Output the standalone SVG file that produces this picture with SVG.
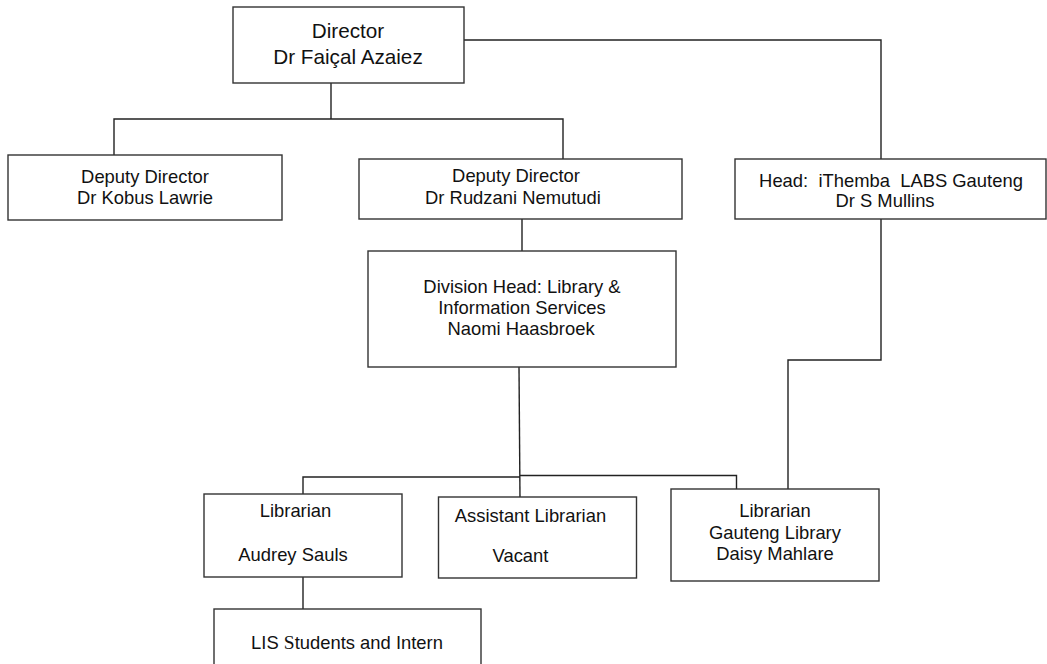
<svg xmlns="http://www.w3.org/2000/svg" width="1047" height="664" viewBox="0 0 1047 664">
<style>
.box{fill:#fff;stroke:#333;stroke-width:1.4}
.ln{fill:none;stroke:#222;stroke-width:1.4}
text{font-family:"Liberation Sans",Arial,sans-serif;font-size:18.4px;fill:#111;text-anchor:middle}
.big{font-size:20.7px}
</style>
<rect width="1047" height="664" fill="#fff"/>
<g id="connectors">
<polyline class="ln" points="464,40 881,40 881,159"/>
<line class="ln" x1="331" y1="83" x2="331" y2="119"/>
<polyline class="ln" points="114,155 114,119 563,119 563,159"/>
<line class="ln" x1="522" y1="219" x2="522" y2="251"/>
<line class="ln" x1="519" y1="367" x2="520" y2="500"/>
<polyline class="ln" points="303,494 303,477 520,477"/>
<polyline class="ln" points="520,475.5 736.5,475.5 736.5,489"/>
<polyline class="ln" points="881,219 881,360 788,360 788,489"/>
<line class="ln" x1="303" y1="577" x2="303" y2="609"/>
</g>
<g id="director">
<rect class="box" x="233" y="7" width="231" height="76"/>
<text class="big" x="348" y="38">Director</text>
<text class="big" x="348" y="64">Dr Faiçal Azaiez</text>
</g>
<g id="deputy-kobus">
<rect class="box" x="8" y="155" width="274" height="65"/>
<text x="145" y="183">Deputy Director</text>
<text x="145" y="204">Dr Kobus Lawrie</text>
</g>
<g id="deputy-rudzani">
<rect class="box" x="359" y="159" width="323" height="60"/>
<text x="516" y="182">Deputy Director</text>
<text x="513" y="204">Dr Rudzani Nemutudi</text>
</g>
<g id="head-gauteng">
<rect class="box" x="735" y="159" width="311" height="60"/>
<text x="891" y="187" xml:space="preserve">Head:  iThemba  LABS Gauteng</text>
<text x="885" y="207">Dr S Mullins</text>
</g>
<g id="division-head">
<rect class="box" x="368" y="251" width="308" height="116"/>
<text x="522" y="293">Division Head: Library &amp;</text>
<text x="522" y="314">Information Services</text>
<text x="521" y="335">Naomi Haasbroek</text>
</g>
<g id="librarian-audrey">
<rect class="box" x="204" y="494" width="198" height="83"/>
<text x="295.5" y="517">Librarian</text>
<text x="293" y="561">Audrey Sauls</text>
</g>
<g id="assistant-librarian">
<rect class="box" x="438.5" y="497" width="198" height="81"/>
<text x="530.5" y="522">Assistant Librarian</text>
<text x="520.5" y="562">Vacant</text>
</g>
<g id="librarian-daisy">
<rect class="box" x="671" y="489" width="208" height="92"/>
<text x="775" y="517">Librarian</text>
<text x="775" y="539">Gauteng Library</text>
<text x="775" y="560">Daisy Mahlare</text>
</g>
<g id="lis-students">
<rect class="box" x="214" y="609" width="267" height="70"/>
<text x="347" y="649">LIS <tspan font-family="'Liberation Serif',serif" font-size="19.5">S</tspan>tudents and Intern</text>
</g>
</svg>
